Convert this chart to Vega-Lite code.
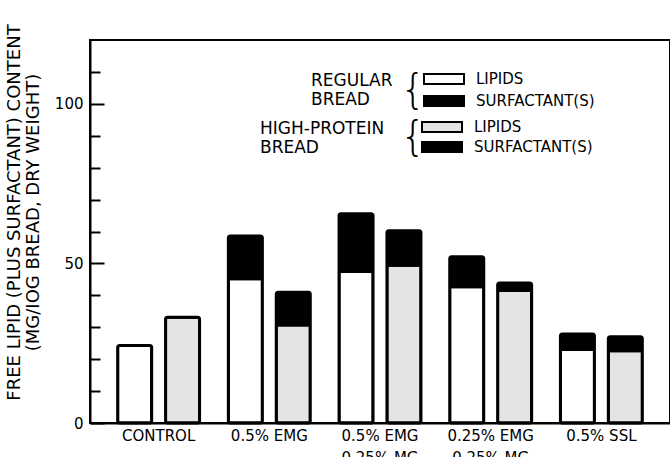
{
  "$schema": "https://vega.github.io/schema/vega-lite/v6.json",
  "width": 580,
  "height": 383,
  "autosize": {"type": "none"},
  "padding": {"left": 90, "top": 40, "right": 0, "bottom": 34},
  "background": "white",
  "config": {
    "view": {"stroke": "black", "strokeWidth": 2},
    "font": "DejaVu Sans"
  },
  "datasets": {
    "bars": [
      {"group": "CONTROL", "bread": "Regular", "component": "LIPIDS", "value": 24.3},
      {"group": "CONTROL", "bread": "High-protein", "component": "LIPIDS", "value": 33.1},
      {"group": "0.5% EMG", "bread": "Regular", "component": "LIPIDS", "value": 45.2},
      {"group": "0.5% EMG", "bread": "Regular", "component": "SURFACTANT(S)", "value": 13.4},
      {"group": "0.5% EMG", "bread": "High-protein", "component": "LIPIDS", "value": 30.7},
      {"group": "0.5% EMG", "bread": "High-protein", "component": "SURFACTANT(S)", "value": 10.3},
      {"group": "0.5% EMG|0.25% MG", "bread": "Regular", "component": "LIPIDS", "value": 47.5},
      {"group": "0.5% EMG|0.25% MG", "bread": "Regular", "component": "SURFACTANT(S)", "value": 18.1},
      {"group": "0.5% EMG|0.25% MG", "bread": "High-protein", "component": "LIPIDS", "value": 49.4},
      {"group": "0.5% EMG|0.25% MG", "bread": "High-protein", "component": "SURFACTANT(S)", "value": 10.8},
      {"group": "0.25% EMG|0.25%  MG", "bread": "Regular", "component": "LIPIDS", "value": 42.7},
      {"group": "0.25% EMG|0.25%  MG", "bread": "Regular", "component": "SURFACTANT(S)", "value": 9.4},
      {"group": "0.25% EMG|0.25%  MG", "bread": "High-protein", "component": "LIPIDS", "value": 41.5},
      {"group": "0.25% EMG|0.25%  MG", "bread": "High-protein", "component": "SURFACTANT(S)", "value": 2.4},
      {"group": "0.5% SSL", "bread": "Regular", "component": "LIPIDS", "value": 23.0},
      {"group": "0.5% SSL", "bread": "Regular", "component": "SURFACTANT(S)", "value": 4.9},
      {"group": "0.5% SSL", "bread": "High-protein", "component": "LIPIDS", "value": 22.6},
      {"group": "0.5% SSL", "bread": "High-protein", "component": "SURFACTANT(S)", "value": 4.4}
    ],
    "braces": [
      {"group": "0.5% EMG|0.25% MG", "bread": "High-protein", "value": 104.0, "sym": "{"},
      {"group": "0.5% EMG|0.25% MG", "bread": "High-protein", "value": 89.4, "sym": "{"}
    ]
  },
  "layer": [
    {
      "data": {"name": "bars"},
      "transform": [{"filter": "datum.bread === 'Regular'"}],
      "mark": {"type": "bar", "stroke": "black", "strokeWidth": 3, "cornerRadius": 2},
      "encoding": {
        "x": {
          "field": "group", "type": "nominal", "sort": null,
          "scale": {"paddingInner": 0.26, "paddingOuter": 0.25},
          "axis": {
            "title": null, "ticks": false, "domainColor": "black", "domainWidth": 2,
            "labelAngle": 0, "labelFont": "DejaVu Sans", "labelFontSize": 15, "labelColor": "black",
            "labelPadding": 5, "labelLineHeight": 22, "labelExpr": "split(datum.label, '|')"
          }
        },
        "xOffset": {"field": "bread", "type": "nominal", "scale": {"domain": ["Regular", "High-protein"], "paddingInner": 0.29, "paddingOuter": 0}},
        "y": {
          "field": "value", "type": "quantitative", "stack": "zero",
          "scale": {"domain": [0, 120], "nice": false},
          "axis": {
            "orient": "left", "values": [0, 50, 100], "tickSize": -14, "tickWidth": 2, "tickColor": "black",
            "domainColor": "black", "domainWidth": 2, "grid": false,
            "labelFont": "DejaVu Sans", "labelFontSize": 15, "labelColor": "black", "labelPadding": 21,
            "title": ["FREE LIPID (PLUS SURFACTANT) CONTENT", "(MG/IOG BREAD, DRY WEIGHT)"],
            "titleFont": "DejaVu Sans", "titleFontSize": 18, "titleFontWeight": "normal", "titleColor": "black",
            "titleLineHeight": 19, "titlePadding": 12, "titleY": 172
          }
        },
        "order": {"field": "component", "sort": "ascending"},
        "fill": {
          "field": "component", "type": "nominal",
          "scale": {"domain": ["LIPIDS", "SURFACTANT(S)"], "range": ["white", "black"]},
          "legend": {
            "orient": "none", "legendX": 221, "legendY": 33,
            "title": ["REGULAR", "BREAD"], "titleOrient": "left", "titleAlign": "left", "titleAnchor": "start",
            "titleBaseline": "top", "titleFont": "DejaVu Sans", "titleFontSize": 17, "titleFontWeight": "normal",
            "titleColor": "black", "titleLineHeight": 19, "titlePadding": 30,
            "symbolType": "M-1,-0.25H1V0.25H-1Z", "symbolSize": 1600, "symbolStrokeColor": "black",
            "symbolStrokeWidth": 2, "symbolOpacity": 1, "clipHeight": 12, "rowPadding": 7,
            "labelFont": "DejaVu Sans", "labelFontSize": 15, "labelColor": "black", "labelOffset": 11, "padding": 0
          }
        }
      }
    },
    {
      "data": {"name": "bars"},
      "transform": [{"filter": "datum.bread === 'High-protein'"}],
      "mark": {"type": "bar", "stroke": "black", "strokeWidth": 3, "cornerRadius": 2},
      "encoding": {
        "x": {"field": "group", "type": "nominal", "sort": null},
        "xOffset": {"field": "bread", "type": "nominal", "scale": {"domain": ["Regular", "High-protein"]}},
        "y": {
          "field": "value", "type": "quantitative", "stack": "zero",
          "axis": {
            "orient": "left", "values": [10, 20, 30, 40, 60, 70, 80, 90, 110], "tickSize": -10, "tickWidth": 2,
            "tickColor": "black", "labels": false, "domain": false, "grid": false, "title": null
          }
        },
        "order": {"field": "component", "sort": "ascending"},
        "fill": {
          "field": "component", "type": "nominal",
          "scale": {"domain": ["LIPIDS", "SURFACTANT(S)"], "range": ["#e4e4e4", "black"]},
          "legend": {
            "orient": "none", "legendX": 170, "legendY": 81,
            "title": ["HIGH-PROTEIN", "BREAD"], "titleOrient": "left", "titleAlign": "left", "titleAnchor": "start",
            "titleBaseline": "top", "titleFont": "DejaVu Sans", "titleFontSize": 17, "titleFontWeight": "normal",
            "titleColor": "black", "titleLineHeight": 19, "titlePadding": 36,
            "symbolType": "M-1,-0.25H1V0.25H-1Z", "symbolSize": 1600, "symbolStrokeColor": "black",
            "symbolStrokeWidth": 2, "symbolOpacity": 1, "clipHeight": 12, "rowPadding": 5,
            "labelFont": "DejaVu Sans", "labelFontSize": 15, "labelColor": "black", "labelOffset": 11, "padding": 0
          }
        }
      }
    },
    {
      "data": {"name": "braces"},
      "mark": {"type": "text", "font": "DejaVu Sans", "fontSize": 40, "fontWeight": 200, "color": "black", "dx": 9, "baseline": "middle"},
      "encoding": {
        "x": {"field": "group", "type": "nominal", "sort": null},
        "xOffset": {"field": "bread", "type": "nominal"},
        "y": {"field": "value", "type": "quantitative", "axis": null},
        "text": {"field": "sym"}
      }
    }
  ],
  "resolve": {"scale": {"fill": "independent"}, "axis": {"y": "independent"}}
}
